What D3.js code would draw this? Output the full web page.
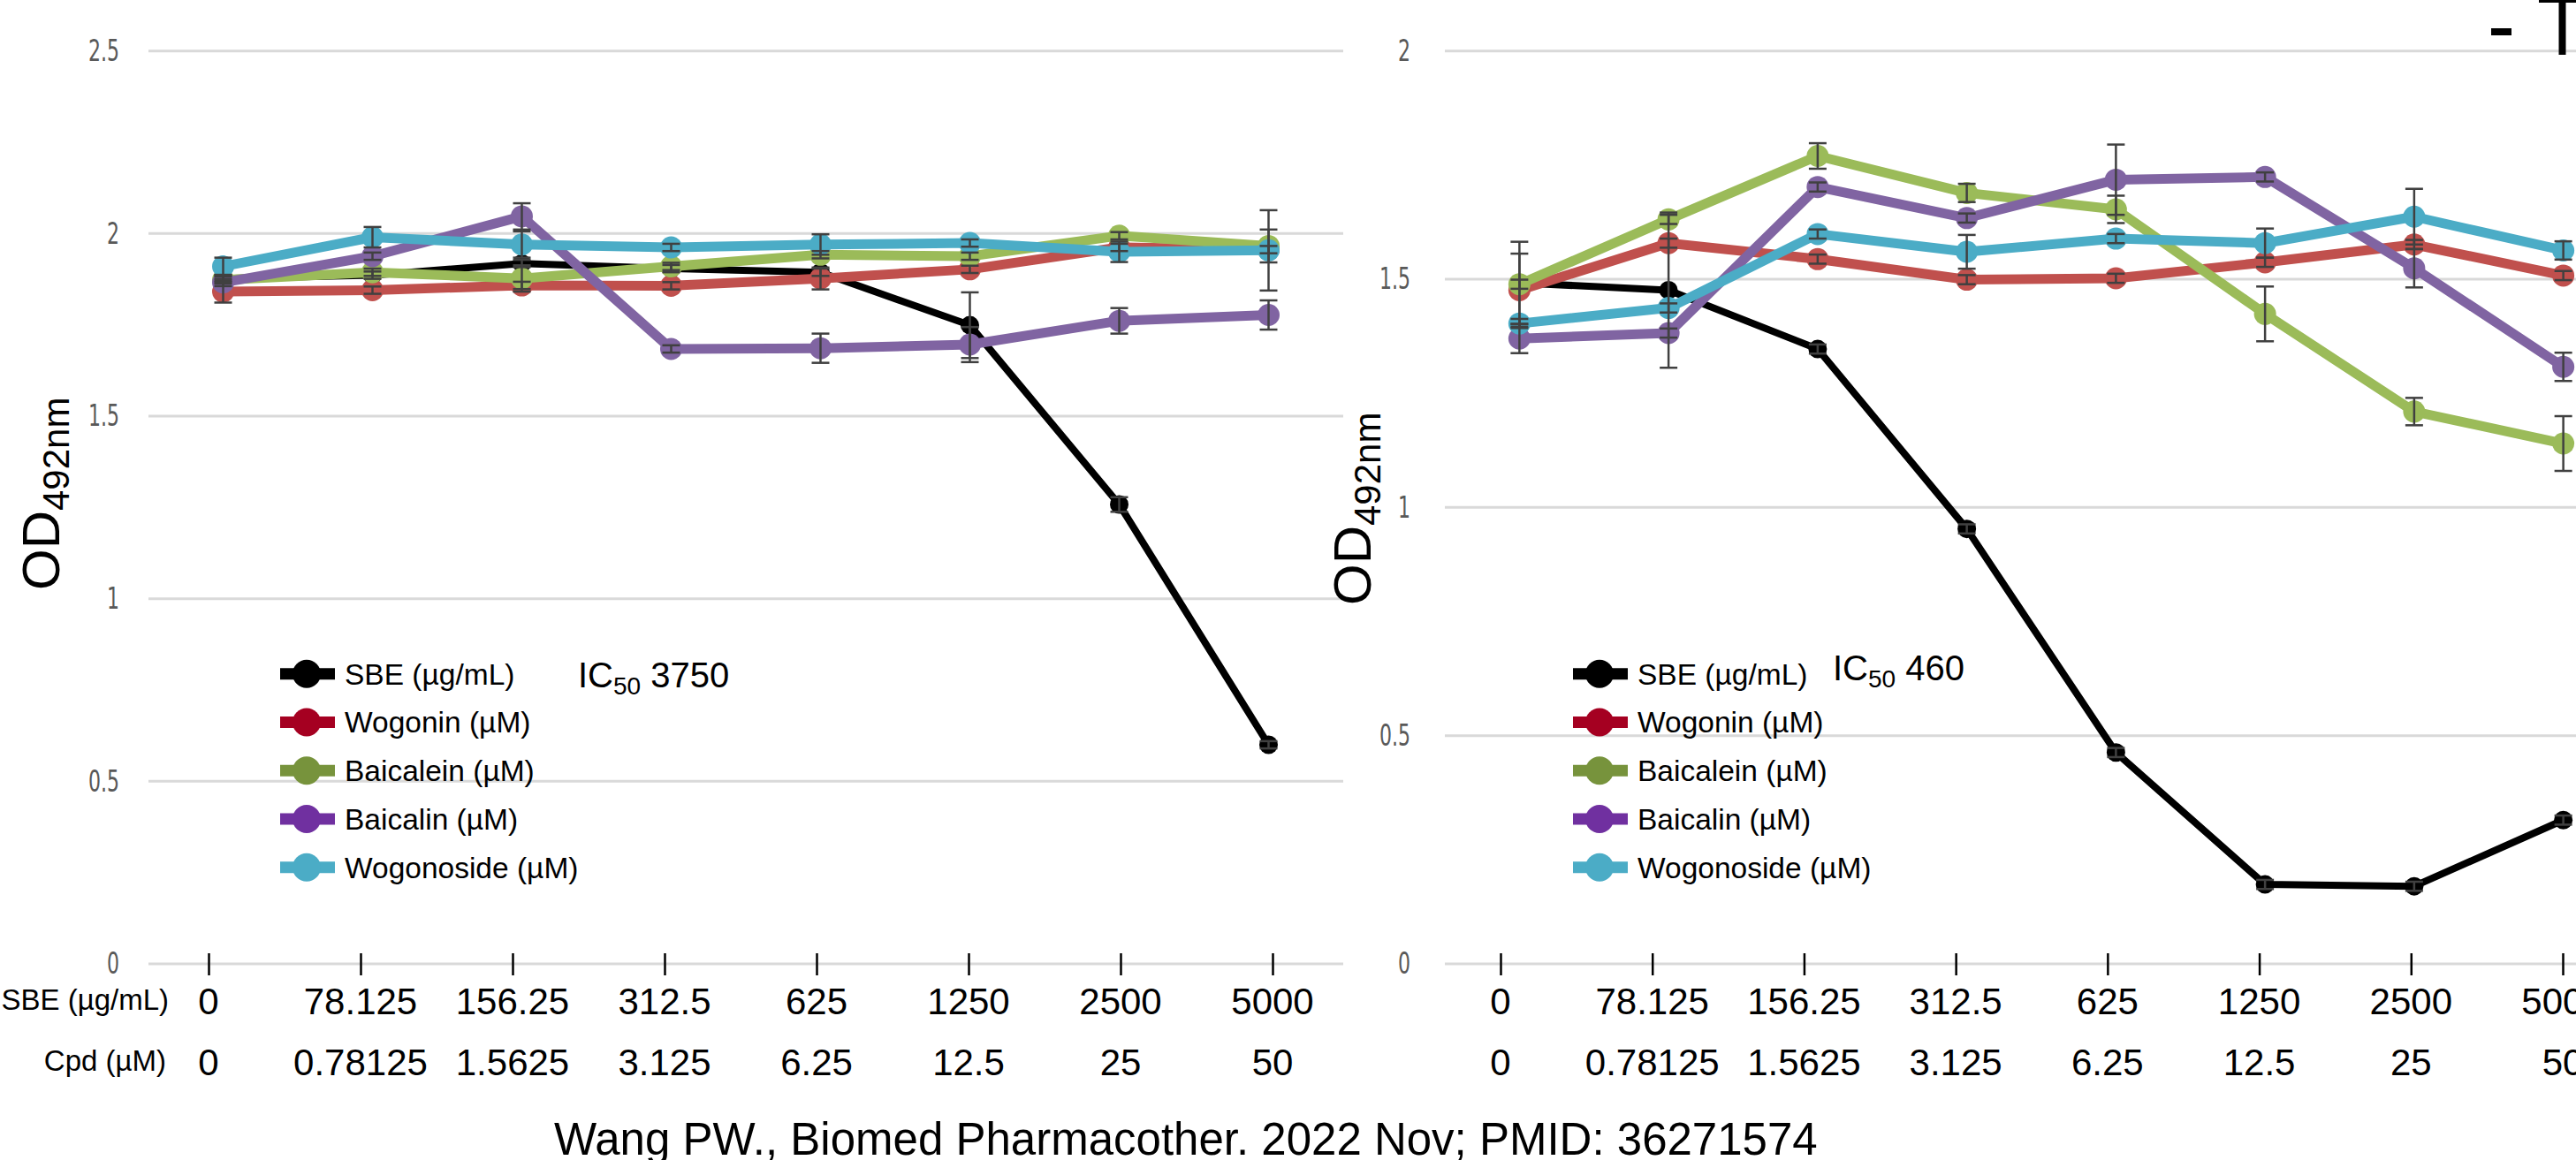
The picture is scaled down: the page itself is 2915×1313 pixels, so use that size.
<!DOCTYPE html>
<html>
<head>
<meta charset="utf-8">
<script src="https://cdn.jsdelivr.net/npm/d3@7"></script>
<style>
  body { margin: 0; background: #fff; }
  svg { display: block; }
</style>
</head>
<body>
<svg id="canvas" width="2915" height="1313"></svg>
<script>
"use strict";

const sbeDoses = ["0", "78.125", "156.25", "312.5", "625", "1250", "2500", "5000"];
const cpdDoses = ["0", "0.78125", "1.5625", "3.125", "6.25", "12.5", "25", "50"];

const seriesNames = ["SBE (µg/mL)", "Wogonin (µM)", "Baicalein (µM)", "Baicalin (µM)", "Wogonoside (µM)"];
const lineColors = ["#000000", "#C0504D", "#9BBB59", "#8064A2", "#4BACC6"];
const legendColors = ["#000000", "#A50021", "#77933C", "#7030A0", "#4BACC6"];

// left panel (IC50 3750)
const leftSbe = [1.877, 1.886, 1.918, 1.904, 1.894, 1.749, 1.258, 0.6];
const leftWogonin = [1.841, 1.845, 1.858, 1.857, 1.877, 1.902, 1.962, 1.956];
const leftBaicalein = [1.873, 1.894, 1.877, 1.91, 1.942, 1.938, 1.994, 1.966];
const leftBaicalin = [1.866, 1.938, 2.047, 1.684, 1.686, 1.696, 1.761, 1.777];
const leftWogonoside = [1.91, 1.99, 1.97, 1.962, 1.97, 1.974, 1.95, 1.954];

const leftSbeErr = [0.01, 0.01, 0.01, 0.01, 0.01, 0.09, 0.02, 0.01];
const leftWogoninErr = [0.03, 0.01, 0.01, 0.01, 0.03, 0.01, 0.01, 0.01];
const leftBaicaleinErr = [0.01, 0.01, 0.036, 0.01, 0.01, 0.01, 0.01, 0.045];
const leftBaicalinErr = [0.01, 0.01, 0.036, 0.01, 0.04, 0.048, 0.035, 0.04];
const leftWogonosideErr = [0.024, 0.028, 0.036, 0.01, 0.028, 0.01, 0.028, 0.11];

// right panel (IC50 460)
const rightSbe = [1.492, 1.476, 1.347, 0.953, 0.463, 0.174, 0.17, 0.315];
const rightWogonin = [1.476, 1.579, 1.544, 1.499, 1.502, 1.537, 1.576, 1.508];
const rightBaicalein = [1.489, 1.631, 1.77, 1.689, 1.653, 1.424, 1.21, 1.14];
const rightBaicalin = [1.37, 1.382, 1.702, 1.634, 1.718, 1.724, 1.524, 1.308];
const rightWogonoside = [1.403, 1.437, 1.599, 1.56, 1.589, 1.579, 1.637, 1.563];

const rightSbeErr = [0.09, 0.17, 0.01, 0.01, 0.01, 0.01, 0.01, 0.01];
const rightWogoninErr = [0.08, 0.01, 0.01, 0.01, 0.01, 0.01, 0.01, 0.01];
const rightBaicaleinErr = [0.01, 0.01, 0.028, 0.02, 0.03, 0.06, 0.03, 0.06];
const rightBaicalinErr = [0.032, 0.01, 0.01, 0.01, 0.077, 0.01, 0.042, 0.031];
const rightWogonosideErr = [0.01, 0.01, 0.01, 0.037, 0.01, 0.032, 0.061, 0.02];

const citation = "Wang PW., Biomed Pharmacother. 2022 Nov; PMID: 36271574";

const svg = d3.select("#canvas");
const plotTop = 57.7;
const plotBottom = 1091;
const textFont = "'Liberation Sans', Arial, sans-serif";

const panels = [
  {
    left: 168, right: 1520, yMax: 2.5, tickStart: 236, tickEnd: 1440,
    series: [leftSbe, leftWogonin, leftBaicalein, leftBaicalin, leftWogonoside],
    errors: [leftSbeErr, leftWogoninErr, leftBaicaleinErr, leftBaicalinErr, leftWogonosideErr],
    labelX: 135, odX: 67, odY: 668, ic: "3750", icX: 654, icY: 778, legendX: 317, rowLabels: true
  },
  {
    left: 1635, right: 2985, yMax: 2, tickStart: 1698, tickEnd: 2900,
    series: [rightSbe, rightWogonin, rightBaicalein, rightBaicalin, rightWogonoside],
    errors: [rightSbeErr, rightWogoninErr, rightBaicaleinErr, rightBaicalinErr, rightWogonosideErr],
    labelX: 1596, odX: 1551, odY: 685, ic: "460", icX: 2074, icY: 770, legendX: 1780, rowLabels: false
  }
];

const drawPanel = (p) => {
  const g = svg.append("g");

  const x = d3.scalePoint()
    .domain(d3.range(sbeDoses.length))
    .range([p.left, p.right])
    .padding(0.5);

  // the dose axis under the plot was drawn by hand, a little off the points
  const xTick = d3.scalePoint()
    .domain(d3.range(sbeDoses.length))
    .range([p.tickStart, p.tickEnd]);

  const y = d3.scaleLinear().domain([0, p.yMax]).range([plotBottom, plotTop]);
  const yTicks = d3.range(0, p.yMax + 0.001, 0.5);

  // gridlines
  g.selectAll(".grid")
    .data(yTicks)
    .enter()
    .append("line")
    .attr("x1", p.left)
    .attr("x2", p.right)
    .attr("y1", (d) => y(d))
    .attr("y2", (d) => y(d))
    .attr("stroke", "#d9d9d9")
    .attr("stroke-width", 3);

  // y tick labels (tall, narrow glyphs in the source)
  const yAxis = g.append("g")
    .attr("transform", `translate(${p.labelX},0)`)
    .call(d3.axisLeft(y).tickValues(yTicks).tickSize(0).tickPadding(0).tickFormat(d3.format("")));
  yAxis.select(".domain").remove();
  yAxis.selectAll("text")
    .attr("font-family", "'Liberation Sans Narrow', 'DejaVu Sans Condensed', sans-serif")
    .attr("font-size", 34)
    .attr("fill", "#595959")
    .attr("transform", "scale(0.72,1)");

  // x tick marks
  const xAxis = g.append("g")
    .attr("transform", `translate(0,${plotBottom - 12})`)
    .call(d3.axisBottom(xTick).tickSize(25).tickFormat(""));
  xAxis.select(".domain").remove();
  xAxis.selectAll("line").attr("stroke", "#000").attr("stroke-width", 2.5);

  // two rows of dose labels
  [sbeDoses, cpdDoses].forEach((row, r) => {
    g.selectAll(".dose" + r)
      .data(row)
      .enter()
      .append("text")
      .attr("x", (d, i) => xTick(i))
      .attr("y", r === 0 ? 1148 : 1217)
      .attr("text-anchor", "middle")
      .attr("font-family", textFont)
      .attr("font-size", 42)
      .text((d) => d);
  });

  if (p.rowLabels) {
    g.append("text").attr("x", 191).attr("y", 1143).attr("text-anchor", "end")
      .attr("font-family", textFont).attr("font-size", 33).text("SBE (µg/mL)");
    g.append("text").attr("x", 188).attr("y", 1212).attr("text-anchor", "end")
      .attr("font-family", textFont).attr("font-size", 33).text("Cpd (µM)");
  }

  // y title OD492nm
  const od = g.append("text")
    .attr("transform", `translate(${p.odX},${p.odY}) rotate(-90)`)
    .attr("font-family", textFont)
    .attr("font-size", 60);
  od.append("tspan").text("OD");
  od.append("tspan").attr("font-size", 42).attr("dy", 11).text("492nm");

  const line = d3.line().x((d, i) => x(i)).y((d) => y(d));

  // lines and markers, SBE first so the compounds sit on top
  p.series.forEach((values, s) => {
    g.append("path")
      .datum(values)
      .attr("d", line)
      .attr("fill", "none")
      .attr("stroke", lineColors[s])
      .attr("stroke-width", s === 0 ? 8 : 11)
      .attr("stroke-linejoin", "round");
    g.selectAll(".pt" + s)
      .data(values)
      .enter()
      .append("circle")
      .attr("cx", (d, i) => x(i))
      .attr("cy", (d) => y(d))
      .attr("r", s === 0 ? 10.5 : 12.5)
      .attr("fill", lineColors[s]);
  });

  // error bars
  p.series.forEach((values, s) => {
    const errs = p.errors[s];
    const eb = g.selectAll(".eb" + s)
      .data(values)
      .enter()
      .append("g")
      .attr("stroke", "#404040")
      .attr("stroke-width", 2.5);
    eb.append("line")
      .attr("x1", (d, i) => x(i)).attr("x2", (d, i) => x(i))
      .attr("y1", (d, i) => y(d - errs[i])).attr("y2", (d, i) => y(d + errs[i]));
    [1, -1].forEach((sign) => {
      eb.append("line")
        .attr("x1", (d, i) => x(i) - 10).attr("x2", (d, i) => x(i) + 10)
        .attr("y1", (d, i) => y(d + sign * errs[i]))
        .attr("y2", (d, i) => y(d + sign * errs[i]));
    });
  });

  // legend
  const legend = g.selectAll(".legend")
    .data(seriesNames)
    .enter()
    .append("g")
    .attr("transform", (d, i) => `translate(${p.legendX},${762.7 + i * 54.75})`);
  legend.append("line")
    .attr("x1", 0).attr("x2", 62)
    .attr("stroke", (d, i) => legendColors[i])
    .attr("stroke-width", 13);
  legend.append("circle")
    .attr("cx", 30).attr("r", 16)
    .attr("fill", (d, i) => legendColors[i]);
  legend.append("text")
    .attr("x", 73).attr("y", 12)
    .attr("font-family", textFont)
    .attr("font-size", 33.5)
    .text((d) => d);

  // IC50 note
  const ic = g.append("text")
    .attr("x", p.icX).attr("y", p.icY)
    .attr("font-family", textFont)
    .attr("font-size", 40);
  ic.append("tspan").text("IC");
  ic.append("tspan").attr("font-size", 28).attr("dy", 8).text("50");
  ic.append("tspan").attr("dy", -8).text(" " + p.ic);
};

panels.forEach(drawPanel);

// citation under both panels, clipped by the bottom edge as in the source
svg.append("text")
  .attr("x", 627)
  .attr("y", 1307)
  .attr("font-family", textFont)
  .attr("font-size", 51)
  .text(citation);

// clipped fragment at the top right corner
svg.append("rect").attr("x", 2819).attr("y", 32).attr("width", 23).attr("height", 8).attr("fill", "#000");
svg.append("line").attr("x1", 2873).attr("x2", 2915).attr("y1", 1.5).attr("y2", 1.5)
  .attr("stroke", "#000").attr("stroke-width", 3);
svg.append("line").attr("x1", 2899.5).attr("x2", 2899.5).attr("y1", 0).attr("y2", 62)
  .attr("stroke", "#000").attr("stroke-width", 8);
</script>
</body>
</html>
